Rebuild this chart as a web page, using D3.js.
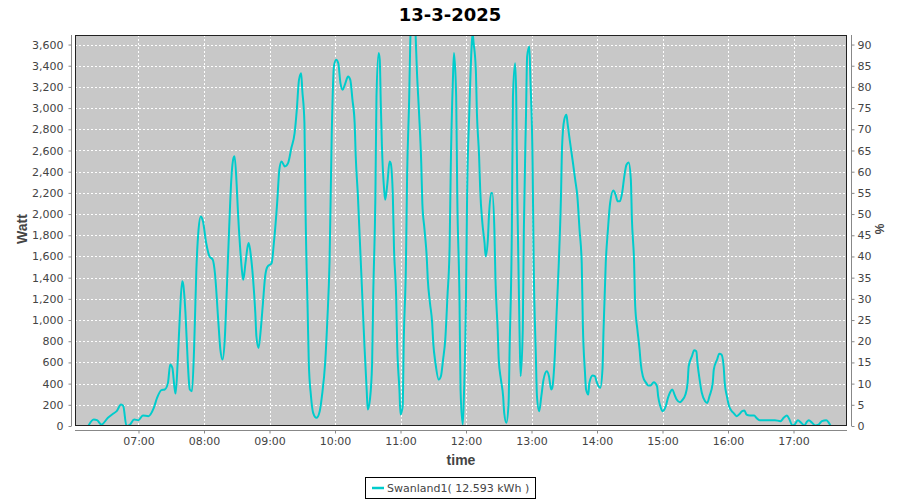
<!DOCTYPE html>
<html>
<head>
<meta charset="utf-8">
<script src="https://cdn.jsdelivr.net/npm/d3@7"></script>
<style>
  html, body { margin: 0; padding: 0; background: #fff; }
  svg { display: block; }
</style>
</head>
<body>
<svg id="chart" width="900" height="500"></svg>
<script>
// ---- data ----
const chartTitle = "13-3-2025";
const seriesName = "Swanland1( 12.593 kWh )";
const times = [
"06:14","06:19","06:22","06:26","06:32","06:37","06:40","06:44","06:46","06:49",
"06:52","06:56","07:00","07:04","07:09","07:14","07:17","07:21","07:24","07:27",
"07:29","07:31","07:33","07:34","07:36","07:38","07:40","07:41","07:43","07:45",
"07:47","07:49","07:51","07:53","07:55","07:57","07:59","08:02","08:05","08:08",
"08:10","08:13","08:15","08:17","08:19","08:21","08:23","08:25","08:27","08:28",
"08:30","08:31","08:33","08:35","08:36","08:38","08:40","08:41","08:43","08:45",
"08:47","08:48","08:50","08:52","08:54","08:56","08:58","09:02","09:04","09:07",
"09:09","09:11","09:14","09:17","09:20","09:23","09:25","09:27","09:29","09:30",
"09:32","09:33","09:35","09:36","09:38","09:40","09:43","09:46","09:48","09:51",
"09:53","09:55","09:57","09:59","10:01","10:03","10:05","10:07","10:09","10:12",
"10:14","10:16","10:18","10:19","10:21","10:23","10:25","10:27","10:29","10:30",
"10:32","10:34","10:35","10:37","10:38","10:40","10:41","10:42","10:43","10:45",
"10:46","10:48","10:50","10:51","10:53","10:54","10:56","10:57","10:59","11:00",
"11:02","11:03","11:05","11:06","11:08","11:09","11:11","11:13","11:14","11:15",
"11:17","11:19","11:20","11:22","11:24","11:25","11:27","11:29","11:30","11:32",
"11:35","11:37","11:39","11:41","11:43","11:45","11:46","11:48","11:49","11:51",
"11:52","11:54","11:55","11:57","11:58","12:00","12:01","12:03","12:05","12:06",
"12:07","12:09","12:10","12:12","12:13","12:15","12:17","12:18","12:20","12:21",
"12:23","12:24","12:26","12:27","12:29","12:30","12:32","12:34","12:35","12:37",
"12:39","12:40","12:42","12:43","12:45","12:46","12:47","12:49","12:50","12:52",
"12:53","12:55","12:56","12:58","12:59","13:01","13:02","13:04","13:05","13:07",
"13:09","13:11","13:14","13:16","13:18","13:19","13:21","13:23","13:25","13:27",
"13:28","13:30","13:32","13:33","13:35","13:38","13:40","13:42","13:44","13:46",
"13:47","13:49","13:50","13:52","13:53","13:56","13:58","14:00","14:03","14:05",
"14:06","14:08","14:10","14:12","14:15","14:17","14:19","14:21","14:23","14:25",
"14:27","14:29","14:31","14:32","14:34","14:35","14:37","14:39","14:40","14:42",
"14:45","14:47","14:49","14:52","14:55","14:56","14:58","15:00","15:03","15:05",
"15:07","15:09","15:11","15:13","15:16","15:18","15:21","15:23","15:24","15:27",
"15:29","15:31","15:32","15:34","15:36","15:39","15:41","15:43","15:46","15:47",
"15:50","15:52","15:54","15:56","15:57","15:59","16:01","16:03","16:05","16:08",
"16:10","16:13","16:15","16:17","16:20","16:24","16:26","16:29","16:34","16:38",
"16:43","16:48","16:51","16:54","16:56","16:59","17:01","17:04","17:07","17:10",
"17:12","17:14","17:17","17:20","17:23","17:26","17:30","17:32","17:34"
];
const watts = [
0,61,55,14,77,118,140,203,190,0,
10,61,55,99,93,171,265,338,344,407,
580,550,360,306,627,1067,1365,1334,1070,627,
344,328,752,1475,1853,1978,1935,1727,1601,1570,
1444,1004,721,627,815,1318,1853,2324,2529,2545,
2261,2041,1695,1444,1381,1539,1695,1727,1601,1381,
1067,847,737,910,1161,1412,1501,1539,1727,2104,
2418,2497,2450,2481,2623,2764,2984,3267,3330,3173,
2859,2041,1067,596,281,124,77,140,281,599,
1004,1550,2750,3393,3456,3424,3236,3173,3220,3298,
3267,3078,2859,2544,2167,1695,1224,752,344,156,
250,596,1224,2167,3110,3519,3456,3016,2638,2230,
2136,2293,2497,2482,2167,1695,1224,752,344,108,
187,815,1539,2324,3110,3644,3950,3900,3644,3361,
2953,2482,2104,1853,1601,1381,1161,973,784,596,
438,469,627,815,1224,1695,2418,3267,3519,3110,
2167,1224,344,14,250,1224,2167,2953,3550,3707,
3613,3361,2953,2544,2230,1916,1727,1601,1758,1978,
2199,2199,1853,1381,910,627,438,281,124,30,
218,752,1853,3110,3424,3110,2167,910,470,910,
1853,2953,3487,3581,3267,2482,1539,659,281,140,
281,438,517,470,344,360,596,1067,1539,2167,
2638,2890,2937,2859,2701,2482,2324,2167,1853,1539,
973,502,344,297,407,476,470,407,360,533,
910,1539,1853,2104,2223,2183,2120,2120,2199,2355,
2466,2487,2324,1947,1539,1130,910,721,596,470,
407,382,382,413,375,281,187,140,187,265,
319,344,297,250,225,243,297,407,564,659,
715,706,596,438,313,234,218,281,407,533,
627,683,674,564,407,281,187,146,124,93,
108,140,146,108,99,99,77,55,55,55,
55,46,77,99,68,5,14,55,30,5,
36,55,30,5,14,46,55,36,0
];
const leftTicks = [0,200,400,600,800,1000,1200,1400,1600,1800,2000,2200,2400,2600,2800,3000,3200,3400,3600];
const rightTicks = [0,5,10,15,20,25,30,35,40,45,50,55,60,65,70,75,80,85,90];
const hourTicks = ["07:00","08:00","09:00","10:00","11:00","12:00","13:00","14:00","15:00","16:00","17:00"];
const xStart = "06:01:50", xEnd = "17:49:00";
const yMax = 3690, pctMax = 92.25;

// ---- layout ----
const P = {left: 75, right: 847, top: 35, bottom: 426};
const svg = d3.select("#chart");
const parseT = d3.timeParse("%H:%M");
const parseTs = d3.timeParse("%H:%M:%S");
const data = times.map((t, i) => ({t: parseT(t), v: watts[i]}));

const x = d3.scaleTime().domain([parseTs(xStart), parseTs(xEnd)]).range([P.left, P.right]);
const y = d3.scaleLinear().domain([0, yMax]).range([P.bottom, P.top]);
const y2 = d3.scaleLinear().domain([0, pctMax]).range([P.bottom, P.top]);

svg.append("rect").attr("width", 900).attr("height", 500).attr("fill", "#fff");

// plot background
svg.append("rect").attr("x", P.left).attr("y", P.top)
  .attr("width", P.right - P.left).attr("height", P.bottom - P.top)
  .attr("fill", "#c8c8c8");

// gridlines
const grid = svg.append("g");
grid.selectAll("line.h").data(leftTicks.filter(d => d > 0)).join("line")
  .attr("x1", P.left).attr("x2", P.right)
  .attr("y1", d => Math.round(y(d)) + 0.5).attr("y2", d => Math.round(y(d)) + 0.5)
  .attr("stroke", "#fff").attr("stroke-dasharray", "2,2");
grid.selectAll("line.v").data(hourTicks.map(parseT)).join("line")
  .attr("y1", P.top).attr("y2", P.bottom)
  .attr("x1", d => Math.round(x(d)) + 0.5).attr("x2", d => Math.round(x(d)) + 0.5)
  .attr("stroke", "#fff").attr("stroke-dasharray", "2,2");

// clip + line
svg.append("clipPath").attr("id", "clip").append("rect")
  .attr("x", P.left).attr("y", P.top).attr("width", P.right - P.left).attr("height", P.bottom - P.top);
const line = d3.line().x(d => x(d.t)).y(d => y(d.v)).curve(d3.curveMonotoneX);
svg.append("path").datum(data).attr("clip-path", "url(#clip)")
  .attr("d", line).attr("fill", "none").attr("stroke", "#00cccc")
  .attr("stroke-width", 2).attr("stroke-linejoin", "round");

// plot border
svg.append("rect").attr("x", P.left + 0.5).attr("y", P.top + 0.5)
  .attr("width", P.right - P.left - 1).attr("height", P.bottom - P.top - 1)
  .attr("fill", "none").attr("stroke", "#222");

const tickFont = "DejaVu Sans, sans-serif";
const labFont = "Liberation Sans, Arial, sans-serif";

// left axis
const la = svg.append("g").attr("transform", "translate(71.5,0)")
  .call(d3.axisLeft(y).tickValues(leftTicks).tickFormat(d3.format(",")).tickSize(3).tickPadding(5));
// right axis
const ra = svg.append("g").attr("transform", "translate(851.5,0)")
  .call(d3.axisRight(y2).tickValues(rightTicks).tickFormat(d3.format("d")).tickSize(3).tickPadding(3));
// bottom axis
const ba = svg.append("g").attr("transform", "translate(0,430.5)")
  .call(d3.axisBottom(x).tickValues(hourTicks.map(parseT)).tickFormat(d3.timeFormat("%H:%M")).tickSize(3).tickPadding(4));

[la, ra, ba].forEach(g => {
  g.select(".domain").attr("stroke", "#888");
  g.selectAll(".tick line").attr("stroke", "#888");
  g.selectAll(".tick text").attr("fill", "#444").style("font-family", tickFont).style("font-size", "11px");
});
la.select(".domain").attr("d", `M0,${P.top}V${P.bottom}`);
ra.select(".domain").attr("d", `M0,${P.top}V${P.bottom}`);
ba.select(".domain").attr("d", `M${P.left},0H${P.right}`);

// title
svg.append("text").attr("x", 450).attr("y", 21).attr("text-anchor", "middle")
  .style("font-family", tickFont).style("font-weight", "bold").style("font-size", "18px")
  .attr("fill", "#000").text(chartTitle);

// axis labels
svg.append("text").attr("transform", "translate(27,229) rotate(-90)").attr("text-anchor", "middle")
  .style("font-family", labFont).style("font-weight", "bold").style("font-size", "14px")
  .attr("fill", "#444").text("Watt");
svg.append("text").attr("transform", "translate(884,229) rotate(-90)").attr("text-anchor", "middle")
  .style("font-family", labFont).style("font-weight", "bold").style("font-size", "12px")
  .attr("fill", "#444").text("%");
svg.append("text").attr("x", 461).attr("y", 465).attr("text-anchor", "middle")
  .style("font-family", labFont).style("font-weight", "bold").style("font-size", "14px")
  .attr("fill", "#444").text("time");

// legend
const lg = svg.append("g");
lg.append("rect").attr("x", 365.5).attr("y", 477.5).attr("width", 170).attr("height", 21)
  .attr("fill", "#fff").attr("stroke", "#000");
lg.append("line").attr("x1", 372).attr("x2", 384).attr("y1", 488).attr("y2", 488)
  .attr("stroke", "#00cccc").attr("stroke-width", 2.5);
lg.append("text").attr("x", 387).attr("y", 492)
  .style("font-family", tickFont).style("font-size", "11px").attr("fill", "#444").text(seriesName);
</script>
</body>
</html>
